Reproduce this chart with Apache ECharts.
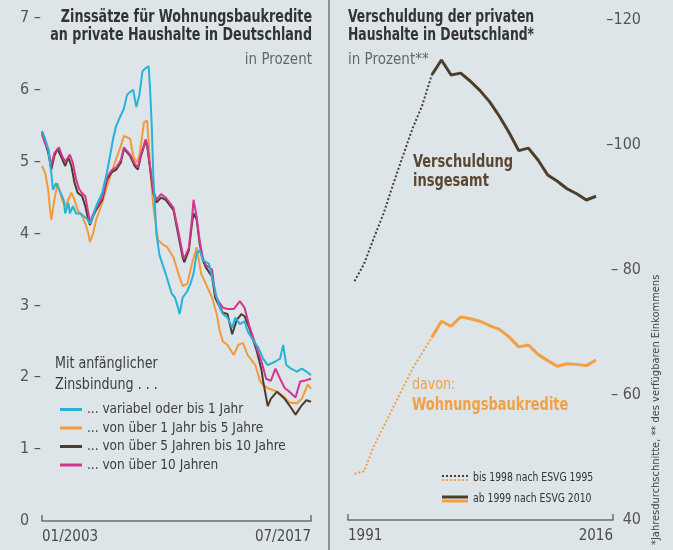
<!DOCTYPE html>
<html><head><meta charset="utf-8">
<script src="https://cdn.jsdelivr.net/npm/echarts@6/dist/echarts.min.js"></script>
<style>html,body{margin:0;padding:0;background:#dde5e8}#c{width:673px;height:550px}</style>
</head><body><div id="c"></div><script>
// ---- Left panel: interest rates (month index 0 = 01/2003, 174 = 07/2017) ----
const leftXLabels = ['01/2003', '07/2017'];
const leftNames = ['... variabel oder bis 1 Jahr', '... von über 1 Jahr bis 5 Jahre', '... von über 5 Jahren bis 10 Jahre', '... von über 10 Jahren'];
const rateVariable = [[0,5.43],[2,5.32],[4,5.18],[6,4.85],[7,4.61],[9,4.7],[12,4.57],[14,4.47],[15,4.28],[17,4.43],[18,4.28],[20,4.38],[22,4.28],[25,4.28],[27,4.24],[29,4.21],[31,4.14],[33,4.24],[35,4.38],[39,4.57],[42,4.85],[44,5.08],[46,5.32],[48,5.5],[50,5.6],[53,5.74],[55,5.93],[57,5.97],[59,6.0],[61,5.76],[63,5.93],[65,6.26],[67,6.3],[69,6.33],[70,5.97],[71,5.5],[72,4.8],[74,4.0],[76,3.7],[80,3.44],[82,3.3],[84,3.16],[86,3.11],[88,2.97],[89,2.88],[91,3.11],[94,3.2],[96,3.3],[98,3.44],[100,3.72],[102,3.77],[104,3.63],[108,3.58],[111,3.3],[113,3.11],[115,2.97],[117,2.88],[120,2.83],[123,2.69],[125,2.83],[128,2.74],[131,2.78],[133,2.64],[137,2.5],[140,2.41],[143,2.26],[146,2.17],[151,2.22],[154,2.26],[156,2.45],[158,2.17],[161,2.12],[165,2.08],[168,2.12],[171,2.08],[174,2.03]];
const rate1to5 = [[0,4.94],[2,4.85],[4,4.61],[5,4.38],[6,4.19],[8,4.47],[10,4.7],[13,4.47],[15,4.38],[17,4.47],[19,4.57],[21,4.47],[23,4.33],[26,4.24],[28,4.14],[30,4.0],[31,3.88],[33,4.0],[35,4.19],[39,4.43],[42,4.66],[45,4.85],[48,5.04],[51,5.22],[53,5.36],[57,5.32],[59,5.08],[61,4.99],[63,5.08],[66,5.55],[68,5.57],[69,5.27],[70,4.89],[72,4.38],[75,3.91],[78,3.85],[81,3.81],[85,3.67],[89,3.39],[91,3.27],[94,3.3],[97,3.58],[100,3.81],[101,3.79],[103,3.44],[106,3.3],[110,3.11],[113,2.88],[115,2.64],[117,2.5],[120,2.45],[124,2.31],[127,2.45],[130,2.48],[133,2.31],[138,2.17],[141,1.95],[143,1.89],[147,1.84],[152,1.8],[156,1.74],[160,1.65],[165,1.64],[168,1.7],[172,1.9],[174,1.84]];
const rate5to10 = [[0,5.41],[2,5.27],[4,5.13],[6,4.89],[8,5.08],[10,5.18],[13,5.04],[15,4.94],[17,5.06],[19,4.94],[21,4.71],[23,4.57],[26,4.52],[28,4.38],[30,4.19],[31,4.12],[33,4.24],[35,4.33],[39,4.47],[42,4.75],[45,4.85],[48,4.89],[51,4.99],[53,5.18],[57,5.08],[60,4.94],[62,4.89],[64,5.08],[67,5.29],[68,5.22],[70,4.89],[72,4.57],[74,4.43],[77,4.5],[80,4.47],[85,4.33],[88,4.0],[91,3.67],[92,3.6],[95,3.77],[97,4.14],[98,4.28],[100,4.2],[102,3.86],[104,3.63],[106,3.53],[110,3.4],[112,3.11],[114,3.02],[117,2.9],[120,2.88],[123,2.6],[126,2.8],[129,2.88],[131,2.85],[134,2.69],[139,2.36],[142,2.1],[143,1.95],[146,1.6],[148,1.7],[152,1.8],[157,1.7],[160,1.61],[164,1.48],[168,1.61],[171,1.68],[174,1.66]];
const rateOver10 = [[0,5.38],[2,5.25],[4,5.18],[6,4.95],[8,5.12],[11,5.2],[13,5.08],[15,5.0],[18,5.1],[20,4.98],[22,4.76],[24,4.62],[26,4.56],[28,4.52],[31,4.16],[33,4.26],[35,4.36],[39,4.5],[42,4.78],[45,4.88],[48,4.92],[51,5.02],[53,5.2],[57,5.1],[60,4.97],[62,4.92],[64,5.1],[67,5.31],[68,5.25],[70,4.92],[72,4.6],[74,4.47],[77,4.55],[80,4.5],[85,4.36],[88,4.05],[91,3.72],[92,3.65],[95,3.8],[97,4.2],[98,4.47],[100,4.24],[102,3.9],[104,3.66],[106,3.56],[110,3.5],[112,3.15],[114,3.06],[117,2.97],[120,2.95],[124,2.95],[128,3.06],[131,2.97],[134,2.72],[139,2.4],[142,2.22],[145,1.98],[148,1.95],[151,2.12],[154,1.98],[157,1.85],[160,1.8],[164,1.72],[167,1.94],[171,1.96],[174,1.98]];

// ---- Right panel: household debt, % of disposable income ----
const years = [1991,1992,1993,1994,1995,1996,1997,1998,1999,2000,2001,2002,2003,2004,2005,2006,2007,2008,2009,2010,2011,2012,2013,2014,2015,2016];
const debtTotal = [78.2,81.0,85.1,89.0,93.7,98.2,102.6,106.3,111.2,113.6,111.2,111.5,110.2,108.7,106.9,104.6,102.0,99.1,99.5,97.6,95.2,94.2,93.0,92.2,91.2,91.8];
const debtHousing = [47.4,47.8,51.8,54.9,58.0,61.1,64.2,66.7,69.2,71.8,71.0,72.5,72.2,71.8,71.1,70.5,69.3,67.7,68.0,66.5,65.5,64.6,65.0,64.9,64.7,65.6];
const rightXLabels = ['1991', '2016'];
const splitYear = 1999; // bis 1998 ESVG 1995 (dotted), ab 1999 ESVG 2010 (solid)

const FONT = '"Liberation Sans Narrow","DejaVu Sans Condensed","Roboto Condensed",Roboto,sans-serif';
const C_CYAN = '#27b2d8', C_ORANGE = '#f39a3b', C_BROWN = '#4a3c2e', C_MAGENTA = '#d5358f';
const C_R_BROWN = '#4d3f2d', C_R_ORANGE = '#f2a044';

const pairs = (vals, from, to) => years.map((y, i) => [y, vals[i]]).filter(p => p[0] >= from && p[0] <= to);

const leftMin = 0, leftMax = 174;
const rMin = 1990.33, rMax = 2017.76;

function txt(x, y, text, font, fill, align, sx) {
  return { type: 'text', x: x, y: y, scaleX: sx || 1, style: { text: text, font: font, fill: fill, align: align || 'left', verticalAlign: 'middle' } };
}

const chart = echarts.init(document.getElementById('c'));
chart.setOption({
  backgroundColor: '#dde5e8',
  animation: false,
  textStyle: { fontFamily: FONT },
  grid: [
    { left: 42, right: 362, top: 18, bottom: 29 },
    { left: 348, right: 60, top: 20, bottom: 30 }
  ],
  xAxis: [
    { gridIndex: 0, type: 'value', min: leftMin, max: leftMax, interval: leftMax,
      axisLine: { lineStyle: { color: '#6d6d6d', width: 1.5 } },
      axisTick: { inside: true, length: 6, lineStyle: { color: '#6d6d6d', width: 1.5 } },
      splitLine: { show: false },
      axisLabel: { margin: 9, fontSize: 15, color: '#4a4a4a', fontFamily: FONT, alignMinLabel: 'left', alignMaxLabel: 'right',
        formatter: v => v === leftMin ? leftXLabels[0] : (v === leftMax ? leftXLabels[1] : '') } },
    { gridIndex: 1, type: 'value', min: rMin, max: rMax,
      axisLine: { lineStyle: { color: '#6d6d6d', width: 1.5 } },
      axisTick: { inside: true, length: 6, customValues: [rMin, rMax], lineStyle: { color: '#6d6d6d', width: 1.5 } },
      splitLine: { show: false },
      axisLabel: { margin: 9, fontSize: 15, color: '#4a4a4a', fontFamily: FONT, customValues: [rMin, rMax], alignMinLabel: 'left', alignMaxLabel: 'right',
        formatter: v => v < 2000 ? rightXLabels[0] : rightXLabels[1] } }
  ],
  yAxis: [
    { gridIndex: 0, type: 'value', min: 0, max: 7, interval: 1,
      axisLine: { show: false }, axisTick: { show: false }, splitLine: { show: false },
      axisLabel: { align: 'left', margin: 22, fontSize: 16, color: '#555', fontFamily: FONT,
        formatter: v => v === 0 ? '0' : v + ' –' } },
    { gridIndex: 1, type: 'value', position: 'right', min: 40, max: 120, interval: 20,
      axisLine: { show: false }, axisTick: { show: false }, splitLine: { show: false },
      axisLabel: { align: 'right', margin: 28, fontSize: 16, color: '#555', fontFamily: FONT,
        formatter: v => v === 40 ? '40' : (v >= 100 ? '–' + v : '– ' + v) } }
  ],
  legend: {
    data: leftNames, orient: 'vertical', left: 55, top: 397, icon: 'rect', itemWidth: 22, itemHeight: 3, itemGap: 3.5,
    textStyle: { fontSize: 13.5, color: '#3d3d3d', fontFamily: FONT, lineHeight: 15 }, selectedMode: false
  },
  series: [
    { name: leftNames[1], type: 'line', xAxisIndex: 0, yAxisIndex: 0, data: rate1to5, showSymbol: false, lineStyle: { color: C_ORANGE, width: 2 }, itemStyle: { color: C_ORANGE } },
    { name: leftNames[2], type: 'line', xAxisIndex: 0, yAxisIndex: 0, data: rate5to10, showSymbol: false, lineStyle: { color: C_BROWN, width: 2 }, itemStyle: { color: C_BROWN } },
    { name: leftNames[3], type: 'line', xAxisIndex: 0, yAxisIndex: 0, data: rateOver10, showSymbol: false, lineStyle: { color: C_MAGENTA, width: 2 }, itemStyle: { color: C_MAGENTA } },
    { name: leftNames[0], type: 'line', xAxisIndex: 0, yAxisIndex: 0, data: rateVariable, showSymbol: false, lineStyle: { color: C_CYAN, width: 2 }, itemStyle: { color: C_CYAN } },
    { name: 'Verschuldung insgesamt ESVG 1995', type: 'line', xAxisIndex: 1, yAxisIndex: 1, data: pairs(debtTotal, 1991, splitYear), showSymbol: false, lineStyle: { color: C_R_BROWN, width: 2, type: 'dotted' } },
    { name: 'Verschuldung insgesamt ESVG 2010', type: 'line', xAxisIndex: 1, yAxisIndex: 1, data: pairs(debtTotal, splitYear, 2016), showSymbol: false, lineStyle: { color: C_R_BROWN, width: 3 } },
    { name: 'Wohnungsbaukredite ESVG 1995', type: 'line', xAxisIndex: 1, yAxisIndex: 1, data: pairs(debtHousing, 1991, splitYear), showSymbol: false, lineStyle: { color: C_R_ORANGE, width: 2, type: 'dotted' } },
    { name: 'Wohnungsbaukredite ESVG 2010', type: 'line', xAxisIndex: 1, yAxisIndex: 1, data: pairs(debtHousing, splitYear, 2016), showSymbol: false, lineStyle: { color: C_R_ORANGE, width: 3 } }
  ],
  graphic: [
    { type: 'line', shape: { x1: 329, y1: 0, x2: 329, y2: 550 }, style: { stroke: '#8d9296', lineWidth: 2 } },
    // left titles
    txt(312, 18, 'Zinssätze für Wohnungsbaukredite', 'bold 17px ' + FONT, '#333', 'right', 0.83),
    txt(312, 36, 'an private Haushalte in Deutschland', 'bold 17px ' + FONT, '#333', 'right', 0.83),
    txt(312, 60, 'in Prozent', '15px ' + FONT, '#666', 'right'),
    txt(55, 364, 'Mit anfänglicher', '15px ' + FONT, '#3d3d3d', 'left', 0.94),
    txt(55, 385, 'Zinsbindung . . .', '15px ' + FONT, '#3d3d3d', 'left', 0.94),
    // right titles
    txt(348, 18, 'Verschuldung der privaten', 'bold 17px ' + FONT, '#333', 'left', 0.81),
    txt(348, 36, 'Haushalte in Deutschland*', 'bold 17px ' + FONT, '#333', 'left', 0.81),
    txt(348, 60, 'in Prozent**', '15px ' + FONT, '#666', 'left'),
    // right annotations
    txt(413, 163, 'Verschuldung', 'bold 17px ' + FONT, '#5a4731', 'left', 0.85),
    txt(413, 182, 'insgesamt', 'bold 17px ' + FONT, '#5a4731', 'left', 0.85),
    txt(412, 385, 'davon:', '16px ' + FONT, C_R_ORANGE, 'left', 0.88),
    txt(412, 405, 'Wohnungsbaukredite', 'bold 18px ' + FONT, C_R_ORANGE, 'left', 0.8),
    // right legend
    { type: 'line', shape: { x1: 442, y1: 476, x2: 468, y2: 476 }, style: { stroke: C_R_BROWN, lineWidth: 2, lineDash: [2, 2] } },
    { type: 'line', shape: { x1: 442, y1: 480, x2: 468, y2: 480 }, style: { stroke: C_R_ORANGE, lineWidth: 2, lineDash: [2, 2] } },
    txt(473, 478, 'bis 1998 nach ESVG 1995', '12px ' + FONT, '#333', 'left', 0.86),
    { type: 'line', shape: { x1: 442, y1: 497, x2: 468, y2: 497 }, style: { stroke: C_R_BROWN, lineWidth: 3 } },
    { type: 'line', shape: { x1: 442, y1: 501, x2: 468, y2: 501 }, style: { stroke: C_R_ORANGE, lineWidth: 3 } },
    txt(473, 499, 'ab 1999 nach ESVG 2010', '12px ' + FONT, '#333', 'left', 0.86),
    // footnote
    { type: 'text', x: 656, y: 545, rotation: Math.PI / 2, style: { text: '*Jahresdurchschnitte, ** des verfügbaren Einkommens', font: '11px ' + FONT, fill: '#444', align: 'left', verticalAlign: 'middle' } }
  ]
});
</script></body></html>
